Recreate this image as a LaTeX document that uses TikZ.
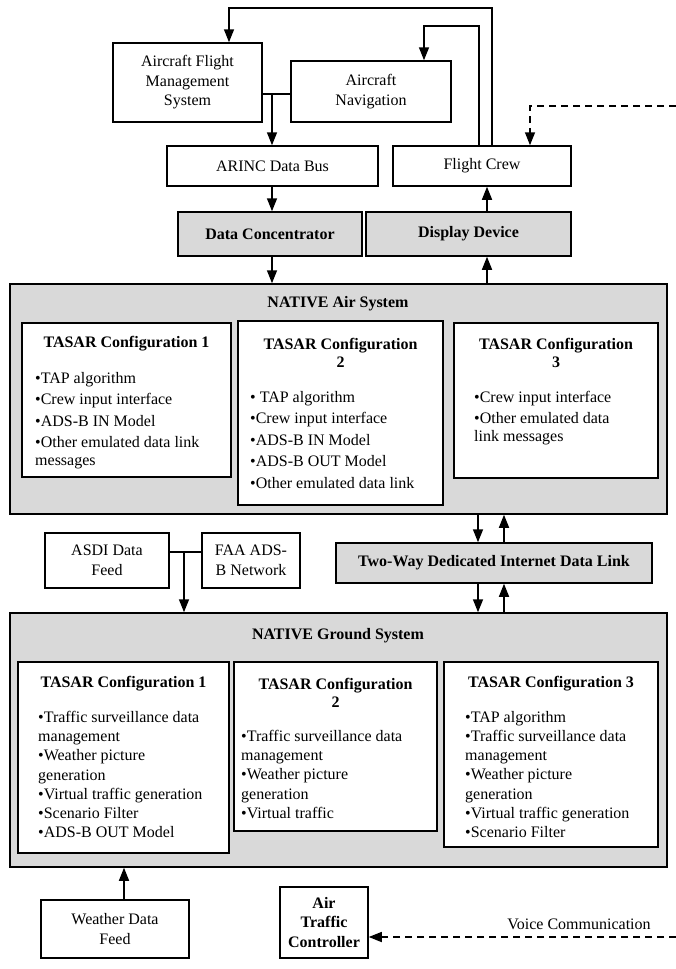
\documentclass[tikz,border=0pt]{standalone}
\usepackage{fontspec}
\setmainfont{Liberation Serif}
\usetikzlibrary{arrows.meta}
\definecolor{gfill}{RGB}{217,217,217}
\newcommand{\mybox}[6]{\node[#1, minimum width={#4-#2}, minimum height={#5-#3}] (#6) at ({(#2+#4)/2},{(#3+#5)/2})}
\tikzset{
  bx/.style={draw, line width=1.5pt, inner sep=1pt, align=center, font=\fontsize{16}{19.5}\selectfont},
  gbx/.style={bx, fill=gfill},
  ln/.style={line width=1.5pt},
  arr/.style={ln, -{Triangle[length=13pt,width=10pt]}},
  dsh/.style={arr, dash pattern=on 7pt off 5pt},
  ttl/.style={font=\fontsize{16}{17.5}\selectfont\bfseries, align=center, inner sep=0pt},
  airlist/.style={font=\fontsize{16}{18}\selectfont, align=left, inner sep=0pt, anchor=north west},
  gndlist/.style={font=\fontsize{16}{19.2}\selectfont, align=left, inner sep=0pt, anchor=north west},
}
\begin{document}
\begin{tikzpicture}[x=1pt, y=-1pt]
\useasboundingbox (0,0) rectangle (676,969);
% top boxes
\mybox{bx}{113}{43}{262}{122}{afms} {Aircraft Flight\\Management\\System};
\mybox{bx}{291}{61}{451}{122}{nav} {Aircraft\\Navigation};
\mybox{bx}{167}{146}{378}{186}{arinc} {ARINC Data Bus};
\mybox{bx}{393}{146}{571}{186}{fc} {Flight Crew};
\mybox{gbx}{178}{212}{362}{256}{dc} {\textbf{Data Concentrator}};
\mybox{gbx}{366}{212}{571}{256}{dd} {\textbf{Display Device}};
% air system
\mybox{gbx}{10}{284}{667}{514}{air} {};
\node[ttl] (airt) at (338,304) {NATIVE Air System};
\mybox{bx, fill=white}{22}{323}{231}{477}{ac1} {};
\mybox{bx, fill=white}{238}{321}{443}{505}{ac2} {};
\mybox{bx, fill=white}{454}{323}{658}{478}{ac3} {};
\node[ttl] (ac1t) at (126.5,344) {TASAR Configuration 1};
\node[ttl] (ac2t) at (340.5,353) {TASAR Configuration\\2};
\node[ttl] (ac3t) at (556,353) {TASAR Configuration\\3};
\node[airlist] (ac1l) at (35,372) {•TAP algorithm\\[3.5pt]•Crew input interface\\[3.5pt]•ADS-B IN Model\\[3.5pt]•Other emulated data link\\messages};
\node[airlist] (ac2l) at (250,391) {• TAP algorithm\\[3.5pt]•Crew input interface\\[3.5pt]•ADS-B IN Model\\[3.5pt]•ADS-B OUT Model\\[3.5pt]•Other emulated data link};
\node[airlist] (ac3l) at (474,391) {•Crew input interface\\[3.5pt]•Other emulated data\\link messages};
% middle
\mybox{gbx}{336}{543}{652}{583}{tw} {\textbf{Two-Way Dedicated Internet Data Link}};
\mybox{bx}{45}{533}{169}{588}{asdi} {ASDI Data\\Feed};
\mybox{bx}{202}{533}{300}{588}{faa} {FAA ADS-\\B Network};
% ground system
\mybox{gbx}{10}{613}{667}{867}{gnd} {};
\node[ttl] (gndt) at (338,636) {NATIVE Ground System};
\mybox{bx, fill=white}{18}{662}{229}{853}{gc1} {};
\mybox{bx, fill=white}{234}{662}{437}{831}{gc2} {};
\mybox{bx, fill=white}{444}{662}{658}{847}{gc3} {};
\node[ttl] (gc1t) at (123.5,684) {TASAR Configuration 1};
\node[ttl] (gc2t) at (335.5,693) {TASAR Configuration\\2};
\node[ttl] (gc3t) at (551,684) {TASAR Configuration 3};
\node[gndlist] (gc1l) at (38,711) {•Traffic surveillance data\\management\\•Weather picture\\generation\\•Virtual traffic generation\\•Scenario Filter\\•ADS-B OUT Model};
\node[gndlist] (gc2l) at (241,730) {•Traffic surveillance data\\management\\•Weather picture\\generation\\•Virtual traffic};
\node[gndlist] (gc3l) at (465,711) {•TAP algorithm\\•Traffic surveillance data\\management\\•Weather picture\\generation\\•Virtual traffic generation\\•Scenario Filter};
% bottom
\mybox{bx}{41}{900}{189}{958}{wdf} {Weather Data\\Feed};
\mybox{bx}{280}{887}{368}{958}{atc} {\textbf{Air}\\\textbf{Traffic}\\\textbf{Controller}};
\node[font=\fontsize{16}{18}\selectfont, inner sep=0pt] (voice) at (579,924) {Voice Communication};
% coordinates
\coordinate (l1) at (229,8);
\coordinate (r1) at (492,8);
\coordinate (l2) at (424,26);
\coordinate (r2) at (479,26);
\coordinate (j1) at (272,94);
\coordinate (dx) at (487,0);
\coordinate (d1) at (676,106);
\coordinate (d2) at (530,106);
\coordinate (ma) at (478,0);
\coordinate (mb) at (504,0);
\coordinate (j2) at (184,552);
\coordinate (wx) at (124,0);
\coordinate (v1) at (676,937);
% connectors
\draw[arr] (fc.north -| r1) -- (r1) -- (l1) -- (afms.north -| l1);
\draw[arr] (fc.north -| r2) -- (r2) -- (l2) -- (nav.north -| l2);
\draw[ln] (afms.east |- j1) -- (nav.west |- j1);
\draw[arr] (j1) -- (arinc.north -| j1);
\draw[arr] (arinc.south -| j1) -- (dc.north -| j1);
\draw[arr] (dc.south -| j1) -- (air.north -| j1);
\draw[arr] (air.north -| dx) -- (dd.south -| dx);
\draw[arr] (dd.north -| dx) -- (fc.south -| dx);
\draw[dsh] (d1) -- (d2) -- (fc.north -| d2);
\draw[arr] (air.south -| ma) -- (tw.north -| ma);
\draw[arr] (tw.north -| mb) -- (air.south -| mb);
\draw[arr] (tw.south -| ma) -- (gnd.north -| ma);
\draw[arr] (gnd.north -| mb) -- (tw.south -| mb);
\draw[ln] (asdi.east |- j2) -- (faa.west |- j2);
\draw[arr] (j2) -- (gnd.north -| j2);
\draw[arr] (wdf.north -| wx) -- (gnd.south -| wx);
\draw[dsh] (v1) -- (atc.east |- v1);
\end{tikzpicture}
\end{document}
